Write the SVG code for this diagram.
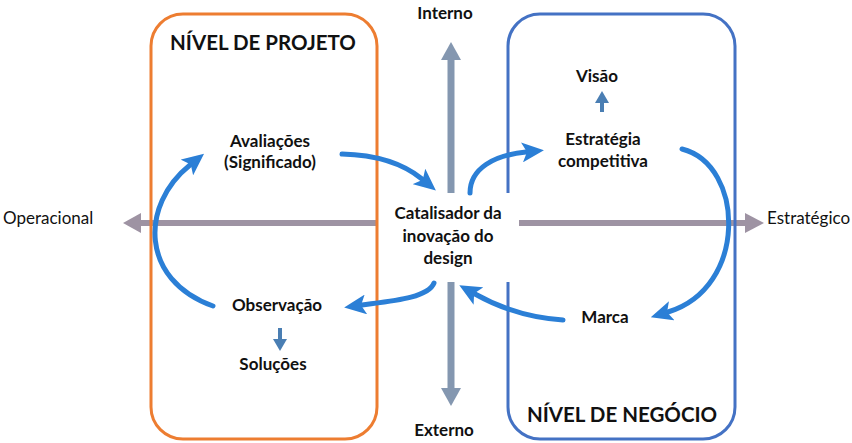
<svg xmlns="http://www.w3.org/2000/svg" width="852" height="443" viewBox="0 0 852 443">
<style>
.t{font-family:Lato,"Liberation Sans",sans-serif;font-weight:700;font-size:17px;fill:#111;text-anchor:middle}
.r{font-family:Lato,"Liberation Sans",sans-serif;font-weight:400;font-size:17px;fill:#111}
.h{font-family:Lato,"Liberation Sans",sans-serif;font-weight:700;font-size:20.5px;fill:#111;text-anchor:middle}
.c{fill:none;stroke:#2B7FD6;stroke-width:5;stroke-linecap:round;marker-end:url(#ah)}
</style>
<defs>
<marker id="ah" viewBox="0 -10 22 20" markerWidth="22" markerHeight="20" markerUnits="userSpaceOnUse" refX="4" refY="0" orient="auto">
<path d="M0,-10 L22,0 L0,10 L5,0 z" fill="#2B7FD6"/>
</marker>
</defs>
<rect width="852" height="443" fill="#fff"/>
<g id="axes">
<line x1="140" y1="223" x2="380" y2="223" stroke="#9E93A3" stroke-width="6"/>
<polygon points="123,223 141,213 141,233" fill="#9E93A3"/>
<line x1="515" y1="223" x2="745" y2="223" stroke="#9E93A3" stroke-width="6"/>
<polygon points="764,223 745,213 745,233" fill="#9E93A3"/>
<line x1="451" y1="58" x2="451" y2="390" stroke="#8497B0" stroke-width="7"/>
<polygon points="451,42 441,60 461,60" fill="#8497B0"/>
<polygon points="451,406 441,388 461,388" fill="#8497B0"/>
</g>
<g id="nivel-negocio">
<rect x="508" y="14" width="227" height="425" rx="32" fill="none" stroke="#4472C4" stroke-width="3"/>
<text class="h" x="622" y="422">NÍVEL DE NEGÓCIO</text>
</g>
<g id="catalisador">
<rect x="378" y="193" width="141" height="89" fill="#fff"/>
<text class="t" x="448" y="219">Catalisador da</text>
<text class="t" x="448" y="242">inovação do</text>
<text class="t" x="448" y="264">design</text>
</g>
<g id="nivel-projeto">
<rect x="151" y="14" width="226" height="425" rx="32" fill="none" stroke="#ED7D31" stroke-width="3"/>
<text class="h" x="263" y="50">NÍVEL DE PROJETO</text>
</g>
<g id="labels">
<text class="t" x="445" y="19">Interno</text>
<text class="t" x="444" y="436">Externo</text>
<text class="r" x="3" y="224">Operacional</text>
<text class="r" x="767" y="224">Estratégico</text>
</g>
<g id="avaliacoes">
<text class="t" x="270" y="147">Avaliações</text>
<text class="t" x="270" y="168">(Significado)</text>
</g>
<g id="observacao"><text class="t" x="277" y="311">Observação</text></g>
<g id="solucoes"><text class="t" x="273" y="370">Soluções</text></g>
<g id="visao"><text class="t" x="597" y="82">Visão</text></g>
<g id="estrategia">
<text class="t" x="603" y="145">Estratégia</text>
<text class="t" x="603" y="167">competitiva</text>
</g>
<g id="marca"><text class="t" x="605" y="323">Marca</text></g>
<g id="connectors">
<path class="c" d="M213,306 C140,280 140,205 190,165"/>
<path class="c" d="M342,154 C380,155 405,165 422,179"/>
<path class="c" d="M434,283 C428,298 392,301 362,305"/>
<path class="c" d="M563,320 C530,318 500,308 475,294"/>
<path class="c" d="M470,193 C470,168 495,155 526,152"/>
<path class="c" d="M682,149 C745,165 748,288 668,312"/>
<line x1="280" y1="328" x2="280" y2="340" stroke="#4A7EB3" stroke-width="4"/>
<polygon points="280,351 273,339 287,339" fill="#4A7EB3"/>
<line x1="602" y1="112" x2="602" y2="102" stroke="#4A7EB3" stroke-width="4"/>
<polygon points="602,91 595,103 609,103" fill="#4A7EB3"/>
</g>
</svg>
